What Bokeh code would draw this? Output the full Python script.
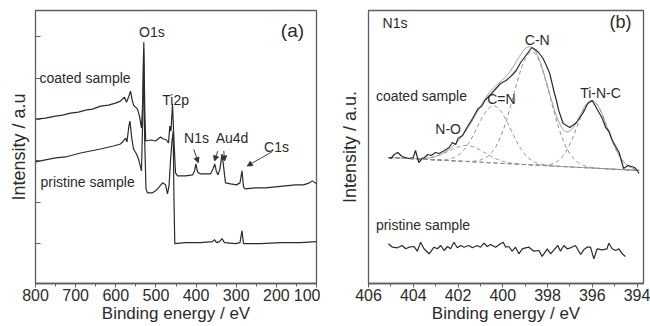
import numpy as np
from bokeh.plotting import figure
from bokeh.layouts import row
from bokeh.models import Range1d, FixedTicker, Label, Arrow, NormalHead
from bokeh.embed import file_html
from bokeh.resources import INLINE

# ---------------- Panel (a): survey spectra ----------------
survey_coated_be = [800, 775.1, 750.2, 732.7, 712.8, 692.9, 675.4, 658.0, 638.1, 618.2, 600.7, 588.3,
                    578.3, 573.3, 568.3, 563.3, 559.6, 555.9, 550.9, 545.9, 540.9, 536.0, 532.7, 530.2,
                    527.7, 525.5, 513.5, 501.1, 488.6, 481.1, 473.6, 468.7, 465.4, 462.5, 458.7, 455.0,
                    451.2, 446.3, 426.3, 408.9, 403.9, 400.4, 396.4, 388.9, 376.5, 364.1, 357.8, 353.6,
                    349.6, 345.4, 340.4, 335.4, 331.7, 326.7, 314.2, 299.3, 290.6, 285.6, 281.9, 278.1,
                    252.0, 227.0, 202.1, 177.2, 152.3, 132.4, 117.4, 110.0, 100.0]
survey_coated_int = [165, 166, 168, 169, 171, 172, 174, 175, 178, 179, 181, 183,
                     187, 182, 187, 193, 185, 179, 177, 175, 168, 156, 183, 242,
                     173, 143, 144, 143, 147, 145, 144, 141, 158, 153, 180, 143,
                     111, 108, 108, 109, 113, 120, 112, 110, 110, 110, 115, 120,
                     113, 109, 115, 130, 118, 101, 100, 99, 101, 113, 97, 95,
                     96, 96, 97, 98, 99, 99, 101, 103, 100]

survey_pristine_be = [800, 775.1, 750.2, 725.3, 687.9, 663.0, 638.1, 605.7, 588.3, 580.8, 575.8, 572.1,
                      567.1, 564.6, 560.9, 555.9, 548.4, 543.4, 538.5, 536.0, 533.0, 530.7, 528.0, 524.7,
                      521.0, 508.5, 501.1, 493.6, 483.6, 476.1, 471.2, 467.4, 463.7, 460.0, 457.0, 455.0,
                      453.0, 426.3, 388.9, 359.1, 354.1, 349.1, 341.6, 335.4, 329.2, 301.8, 290.6, 285.6,
                      281.9, 239.5, 189.7, 139.9, 100.0]
survey_pristine_int = [122, 124, 126, 127, 131, 133, 135, 138, 140, 143, 146, 142,
                       159, 163, 148, 135, 130, 125, 117, 113, 163, 235, 143, 95,
                       91, 91, 93, 96, 101, 99, 90, 98, 123, 143, 153, 83,
                       40, 41, 41, 42, 44, 41, 42, 45, 41, 40, 41, 53,
                       40, 40, 41, 41, 42]

survey_ticks = [800, 700, 600, 500, 400, 300, 200, 100]
survey_minor = [750, 650, 550, 450, 350, 250, 150]
survey_yticks = [40, 81.5, 123, 164.5, 206, 247.5]

# ---------------- Panel (b): N1s high resolution ----------------
n1s_coated_be = [405.11, 405.0, 404.85, 404.7, 404.5, 404.2, 404.0, 403.9, 403.75, 403.6, 403.5, 403.35,
                 403.2, 403.0, 402.85, 402.6, 402.4, 402.25, 402.1, 402.0, 401.8, 401.6, 401.35, 401.1,
                 400.95, 400.8, 400.5, 400.3, 400.1, 399.85, 399.6, 399.4, 399.2, 398.9, 398.7, 398.55,
                 398.4, 398.2, 398.05, 397.9, 397.7, 397.6, 397.5, 397.3, 397.0, 396.7, 396.4, 396.2,
                 396.0, 395.85, 395.7, 395.55, 395.4, 395.25, 395.1, 394.8, 394.6, 394.4, 394.1, 393.9]
n1s_coated_int = [126, 125, 129, 131, 127, 125, 126, 133, 121, 125, 126, 129,
                  128, 131, 130, 133, 136, 141, 139, 145, 148, 156, 165, 175,
                  177, 183, 190, 195, 200, 203, 208, 213, 221, 230, 236, 234,
                  231, 225, 218, 210, 191, 183, 173, 160, 156, 161, 171, 180,
                  183, 177, 171, 165, 156, 152, 143, 131, 115, 118, 116, 110]

n1s_pristine_be = [405.11, 404.93, 404.71, 404.49, 404.34, 404.19, 403.96, 403.82, 403.67, 403.52, 403.29,
                   403.07, 402.92, 402.77, 402.62, 402.47, 402.33, 402.18, 402.03, 401.88, 401.73, 401.51,
                   401.36, 401.14, 400.99, 400.84, 400.69, 400.54, 400.32, 400.10, 399.98, 399.87, 399.73,
                   399.58, 399.43, 399.28, 399.13, 398.98, 398.83, 398.61, 398.38, 398.24, 398.01, 397.86,
                   397.71, 397.54, 397.42, 397.27, 397.12, 396.97, 396.75, 396.52, 396.38, 396.23, 396.08,
                   395.93, 395.78, 395.56, 395.34, 395.26, 395.11, 394.96, 394.81, 394.66, 394.52]
n1s_pristine_int = [39.7, 36.3, 35.7, 38.0, 34.7, 36.3, 37.0, 32.3, 41.3, 34.7, 29.7,
                    36.3, 34.7, 38.0, 33.0, 37.0, 34.7, 41.3, 35.7, 38.0, 36.3, 38.0,
                    35.7, 38.0, 36.3, 40.3, 37.0, 39.0, 36.3, 39.7, 41.3, 36.3, 37.0,
                    32.3, 36.3, 29.7, 34.7, 35.7, 36.3, 32.3, 33.0, 27.0, 34.7, 29.7,
                    33.7, 38.0, 32.3, 38.0, 34.7, 35.7, 38.0, 29.0, 33.7, 36.3, 36.3,
                    24.7, 34.7, 33.7, 34.7, 40.3, 34.7, 33.0, 34.7, 29.7, 27.0]

fit_names = ["N-O", "C=N", "C-N", "Ti-N-C"]
fit_centers = [401.6, 400.4, 398.7, 396.0]
fit_heights = [16, 57, 113, 67]
fit_sigmas = [0.8, 0.75, 0.82, 0.68]
background_be = [405.1, 393.9]
background_int = [126, 113]

n1s_ticks = [406, 404, 402, 400, 398, 396, 394]
n1s_minor = [405, 403, 401, 399, 397, 395]

FONT = "Liberation Sans"
LINE = "#2b2b2b"
FRAME = "#5e5e5e"
TXT = "#2b2b2b"


def style(p, ticks, minor, ylabel, ystandoff, yticks):
    p.outline_line_color = FRAME
    p.outline_line_width = 1.3
    p.xgrid.visible = False
    p.ygrid.visible = False
    p.background_fill_color = "white"
    p.border_fill_color = "white"
    ax = p.xaxis[0]
    ax.ticker = FixedTicker(ticks=ticks, minor_ticks=minor)
    ax.axis_line_color = FRAME
    ax.axis_line_width = 1.3
    ax.major_tick_line_color = FRAME
    ax.minor_tick_line_color = FRAME
    ax.major_tick_in = 0
    ax.major_tick_out = 4
    ax.minor_tick_in = 0
    ax.minor_tick_out = 3
    ax.major_label_standoff = 1
    ax.major_label_text_font = FONT
    ax.major_label_text_font_size = "16px"
    ax.major_label_text_color = TXT
    ax.axis_label = "Binding energy / eV"
    ax.axis_label_text_font = FONT
    ax.axis_label_text_font_size = "17px"
    ax.axis_label_text_font_style = "normal"
    ax.axis_label_text_color = TXT
    ax.axis_label_standoff = 0
    ya = p.yaxis[0]
    ya.ticker = FixedTicker(ticks=yticks, minor_ticks=[])
    ya.axis_line_color = None
    ya.major_tick_line_color = FRAME
    ya.major_tick_in = 5
    ya.major_tick_out = 0
    ya.minor_tick_line_color = None
    ya.major_label_text_font_size = "2px"
    ya.major_label_text_color = None
    ya.major_label_standoff = 0
    ya.axis_label = ylabel
    ya.axis_label_text_font = FONT
    ya.axis_label_text_font_size = "18px"
    ya.axis_label_text_font_style = "normal"
    ya.axis_label_text_color = TXT
    ya.axis_label_standoff = ystandoff


def txt(p, x, y, s, size="14px", align="center", baseline="middle"):
    p.add_layout(Label(x=x, y=y, text=s, text_font=FONT, text_font_size=size,
                       text_color=TXT, text_align=align, text_baseline=baseline))


def arrow(p, x0, y0, x1, y1):
    p.add_layout(Arrow(end=NormalHead(size=5, fill_color="#333333", line_color="#333333", line_width=1),
                       x_start=x0, y_start=y0, x_end=x1, y_end=y1, line_color="#444444", line_width=1))


# ---- figure (a)
pa = figure(width=320, height=326, output_backend="svg", toolbar_location=None,
            x_range=Range1d(800, 100), y_range=Range1d(0, 274),
            min_border_left=35, min_border_right=4, min_border_top=9, min_border_bottom=43)
style(pa, survey_ticks, survey_minor, "Intensity / a.u", 7, survey_yticks)
pa.line(survey_coated_be, survey_coated_int, line_color=LINE, line_width=1.2)
pa.line(survey_pristine_be, survey_pristine_int, line_color=LINE, line_width=1.2)

txt(pa, 510, 252, "O1s")
txt(pa, 160, 254, "(a)", size="19px")
txt(pa, 790, 206, "coated sample", align="left")
txt(pa, 451, 184, "Ti2p")
txt(pa, 787.5, 102, "pristine sample", align="left")
txt(pa, 399, 146, "N1s")
txt(pa, 310.5, 146, "Au4d")
txt(pa, 199.6, 137, "C1s")
arrow(pa, 405.7, 134.7, 394.7, 121.3)
arrow(pa, 345.9, 133, 354.1, 123)
arrow(pa, 330.9, 133, 329.2, 123)
arrow(pa, 210.3, 132.3, 272.6, 118)

# ---- figure (b)
pb = figure(width=330, height=326, output_backend="svg", toolbar_location=None,
            x_range=Range1d(406, 393.71), y_range=Range1d(0, 273),
            min_border_left=48, min_border_right=7, min_border_top=10, min_border_bottom=43)
style(pb, n1s_ticks, n1s_minor, "Intensity / a.u.", 9, [])

xs = np.linspace(background_be[0], background_be[1], 400)
bg = np.interp(xs, background_be[::-1], background_int[::-1])
total = bg.copy()
for c, h, s in zip(fit_centers, fit_heights, fit_sigmas):
    comp = h * np.exp(-(xs - c) ** 2 / (2 * s ** 2))
    total = total + comp
    pb.line(xs, bg + comp, line_color="#8a8a8a", line_width=1, line_dash="4 3")
pb.line(background_be, background_int, line_color="#8a8a8a", line_width=1, line_dash="4 3")
pb.line(xs, total, line_color="#9a9a9a", line_width=1)
pb.line(n1s_coated_be, n1s_coated_int, line_color=LINE, line_width=1.2)
pb.line(n1s_pristine_be, n1s_pristine_int, line_color=LINE, line_width=1.2)

txt(pb, 405.37, 260.5, "N1s", align="left")
txt(pb, 394.74, 262, "(b)", size="18px")
txt(pb, 398.46, 244, "C-N")
txt(pb, 405.67, 188, "coated sample", align="left")
txt(pb, 400.06, 185, "C=N")
txt(pb, 395.63, 190.5, "Ti-N-C")
txt(pb, 402.44, 155, "N-O")
txt(pb, 405.67, 59, "pristine sample", align="left")

layout = row(pa, pb, spacing=0)
open("out.html", "w").write(file_html(layout, INLINE))
